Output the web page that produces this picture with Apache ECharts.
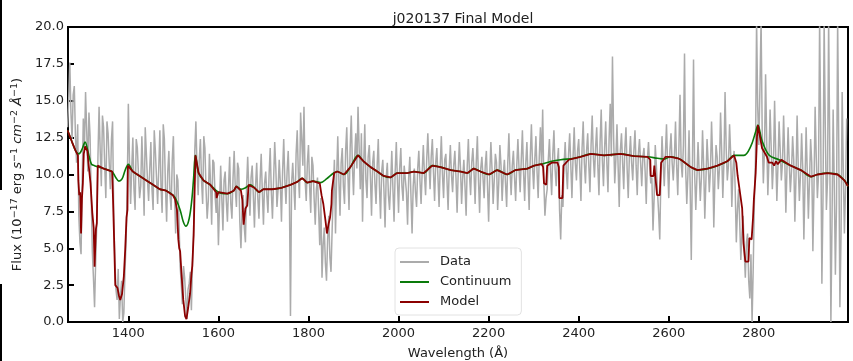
<!DOCTYPE html>
<html>
<head>
<meta charset="utf-8">
<script src="https://cdn.jsdelivr.net/npm/echarts@6/dist/echarts.min.js"></script>
<style>html,body{margin:0;padding:0;background:#fff;}#c{width:853px;height:361px;}</style>
</head>
<body>
<div id="c"></div>
<script>
// ---- data ----
const titleText = 'j020137 Final Model';
const seriesNames = ['Data', 'Continuum', 'Model'];
const xTicks = [1400, 1600, 1800, 2000, 2200, 2400, 2600, 2800];

// observed spectrum, pixels at 1265 + 5k Å
const dataStartA = 1265;
const dataStep = 5;
const dataFluxA = [
  13.2,17.6,12.4,16.0,10.8,7.2,4.6,13.8,15.6,10.2,12.6,4.8,1.0,6.8,14.6,9.2,13.2,8.4,12.8,9.0,
  13.6,4.2,1.5,0.2,2.8,0.6,5.5,14.8,8.0,12.5,7.6,11.8,8.4,12.6,7.2,11.4,8.2,12.2,7.6,11.6,
  8.0,13.0,7.4,12.4,6.8,11.6,7.6,12.6,6.0,9.6,3.8,1.2,3.0,0.2,2.6,0.8,6.2,13.6,8.6,12.4,
  8.0,11.8,7.0,11.4,6.6,10.8,7.4,5.2,10.6,6.2,10.2,6.8,11.2,7.0,11.6,7.8,10.4,5.0,8.6,5.4,
  11.2,7.2,10.6,6.4,10.8,7.0,11.4,6.6,10.2,7.4,11.8,7.0,12.2,7.8,11.0,6.8,12.4,8.0,11.6,0.4,
  10.8,7.6,13.0,8.4,12.4,14.6,8.2,12.0,7.4,10.6,6.6,9.8,5.2,3.0,6.4,2.8,7.2,3.4,8.8,6.0,
  12.6,7.2,11.8,8.0,13.2,7.6,14.0,8.6,12.8,14.6,9.0,6.8,13.4,8.4,12.0,7.2,11.6,8.0,12.4,7.0,
  11.0,6.4,10.8,7.6,11.6,6.8,12.2,7.4,11.8,8.2,10.6,6.6,11.2,6.0,10.4,7.8,11.6,8.0,12.0,8.6,
  12.8,9.0,12.4,8.2,11.8,7.8,12.6,8.4,11.4,7.6,12.0,8.8,11.6,7.4,12.2,8.0,11.0,7.2,12.4,8.6,
  11.8,8.0,12.6,7.4,11.2,8.4,11.6,6.8,12.2,8.0,11.4,7.6,12.0,8.2,11.0,7.8,12.8,8.6,11.6,8.2,
  12.4,8.8,13.0,8.2,12.2,7.6,13.4,9.0,12.6,8.4,13.2,14.4,7.2,9.0,12.4,8.6,13.0,9.2,11.8,5.6,
  7.8,12.2,9.0,12.8,8.4,13.2,9.6,12.4,8.2,13.6,9.4,12.8,8.8,14.0,9.8,13.2,8.6,14.4,9.2,13.6,
  8.8,14.8,18.0,9.4,13.4,7.8,12.8,9.0,13.2,8.4,12.6,9.6,13.0,8.6,12.4,9.2,11.8,8.0,12.2,9.4,
  6.2,12.0,8.8,5.6,12.6,9.2,13.4,8.4,12.8,9.6,13.6,8.6,15.4,9.8,18.2,8.0,13.0,4.2,17.8,7.6,
  12.2,8.2,13.0,7.0,12.4,8.8,13.6,6.4,12.0,9.0,14.2,8.4,15.6,9.6,13.4,7.8,11.6,5.4,9.0,4.2,
  7.2,3.0,6.0,1.6,0.0,8.0,20.5,12.0,20.5,9.4,16.8,8.6,14.4,9.0,15.0,8.2,13.6,9.6,14.0,7.4,
  13.2,8.8,12.6,6.8,14.0,8.2,12.8,5.6,13.2,7.0,12.4,4.8,14.6,8.4,20.5,2.6,20.5,7.6,20.5,0.0,
  14.4,3.2,20.5,1.0,15.6,6.0,13.8
];
// observed spectrum, pixels at 1267.5 + 5k Å
const dataStartB = 1267.5;
const dataFluxB = [
  15.0,14.2,15.4,12.6,13.4,5.4,9.6,11.8,13.0,14.2,8.6,3.0,4.2,11.2,11.6,14.0,10.6,13.6,10.8,12.4,
  7.4,2.2,3.6,1.8,0.0,3.4,9.0,11.0,10.4,9.0,12.4,10.0,9.2,10.2,13.2,9.6,10.4,9.0,13.0,9.8,
  10.4,9.2,13.4,9.0,10.2,8.6,11.0,8.8,10.0,6.8,2.6,3.8,1.6,2.2,3.4,4.0,11.6,10.4,11.0,9.6,
  12.6,9.0,8.2,9.4,11.0,8.6,8.8,8.0,8.4,9.6,8.2,9.2,8.0,9.8,9.0,10.8,6.8,7.6,6.4,9.2,
  9.0,9.8,8.6,9.2,8.4,9.6,8.8,9.4,8.6,10.0,8.8,9.6,10.4,9.0,9.4,10.2,9.6,10.2,9.0,9.4,
  9.2,11.4,10.0,14.2,10.6,9.6,10.8,9.2,11.2,8.4,9.0,7.6,8.4,5.2,4.0,5.6,4.4,6.2,11.0,9.8,
  9.6,10.8,9.2,11.6,10.0,11.8,10.6,11.2,10.4,11.8,12.8,10.6,9.6,11.2,9.8,10.8,9.4,10.6,9.2,10.2,
  9.0,9.8,8.6,9.4,9.0,10.2,9.6,10.4,9.2,10.6,8.8,9.8,8.6,9.2,8.8,10.4,9.6,10.2,10.0,11.0,
  10.8,11.2,10.2,10.8,9.8,10.6,10.0,11.0,9.6,10.4,10.0,10.6,9.8,10.2,10.4,9.8,9.2,10.6,10.0,10.8,
  10.2,10.8,9.6,10.4,9.8,10.6,9.2,10.0,10.4,9.6,10.8,9.4,10.6,10.0,9.4,10.8,10.2,10.6,9.8,10.6,
  10.4,11.0,10.2,10.8,9.8,11.2,10.6,11.0,10.2,11.2,10.6,9.6,8.4,11.0,10.2,11.4,10.4,10.8,7.6,8.6,
  10.6,10.2,11.4,10.6,11.2,10.8,11.6,10.4,11.8,10.8,11.6,10.6,12.0,11.2,11.8,10.6,12.2,11.0,11.8,10.8,
  12.4,11.2,12.6,11.0,10.6,11.6,10.8,11.8,10.4,11.2,10.8,11.6,10.6,11.4,10.8,11.2,10.2,11.0,10.6,9.8,
  8.4,10.6,7.4,9.8,10.8,11.4,10.6,11.6,10.8,11.2,10.6,11.8,10.8,12.0,10.4,10.0,9.2,10.4,10.0,9.8,
  10.2,9.8,10.6,9.6,10.8,10.2,11.0,9.8,11.2,10.4,11.6,10.8,11.8,10.6,11.4,10.2,9.0,7.6,6.8,6.0,
  4.8,5.4,2.8,4.6,3.6,11.0,14.6,16.0,12.8,11.6,12.2,11.0,11.8,10.8,11.4,10.6,11.6,10.8,11.2,10.4,
  10.8,10.2,11.0,9.8,10.6,10.0,10.4,9.4,10.2,9.6,10.8,9.2,11.2,10.0,12.6,8.4,13.4,9.6,11.8,6.8,
  9.4,8.0,12.0,5.8,10.4,9.0
];

// continuum fit
const contWave = [
  1265,1275,1283,1290,1297,1304,1310,1318,1325,1335,
  1345,1355,1364,1372,1379,1386,1393,1400,1410,1425,
  1440,1455,1470,1484,1499,1506,1515,1522,1528,1535,
  1541,1545,1549,1556,1567,1582,1600,1620,1634,1640,
  1650,1660,1671,1680,1690,1700,1720,1740,1760,1775,
  1786,1797,1810,1827,1840,1856,1864,1879,1893,1910,
  1922,1938,1953,1967,1982,1997,2019,2034,2056,2075,
  2093,2116,2138,2153,2167,2182,2201,2219,2241,2260,
  2286,2301,2323,2340,2360,2390,2404,2427,2456,2493,
  2523,2553,2575,2590,2604,2620,2627,2649,2664,2686,
  2708,2730,2745,2767,2782,2793,2798,2807,2823,2845,
  2871,2893,2916,2930,2953,2975,2990,2998
];
const contFlux = [
  13.0,12.2,11.6,11.4,11.7,12.2,11.6,10.7,10.6,10.5,
  10.4,10.3,10.2,9.8,9.55,9.7,10.3,10.7,10.2,9.9,
  9.6,9.3,9.0,8.9,8.6,8.3,7.6,6.8,6.5,7.0,
  8.3,9.8,11.3,10.1,9.6,9.3,8.8,8.7,8.9,9.2,
  9.0,9.1,9.3,9.1,8.8,9.0,9.0,9.1,9.3,9.5,
  9.75,9.45,9.55,9.45,9.7,10.1,10.2,10.0,10.5,11.3,
  10.9,10.5,10.2,9.9,9.8,10.1,10.1,10.2,10.1,10.6,
  10.5,10.3,10.2,10.1,10.4,10.2,10.0,10.3,10.0,10.3,
  10.4,10.6,10.75,10.9,11.0,11.1,11.2,11.4,11.3,11.4,
  11.25,11.2,11.1,11.05,11.2,11.1,11.0,10.5,10.3,10.4,
  10.6,10.9,11.3,11.3,11.9,12.9,13.35,12.3,11.3,11.0,
  10.6,10.3,9.85,10.0,10.1,10.0,9.6,9.2
];

// full model (continuum x absorption)
const modelWave = [
  1265,1275,1283,1288,1289,1291,1293,1295,1297,1299,
  1301,1304,1306,1309,1312,1316,1320,1323,1325,1327,
  1328,1330,1332,1335,1345,1355,1364,1366,1369,1371,
  1376,1379,1382,1386,1390,1393,1396,1398,1399,1400,
  1410,1425,1440,1455,1470,1484,1499,1504,1508,1511,
  1513,1515,1518,1522,1526,1529,1533,1537,1540,1542,
  1545,1549,1556,1567,1582,1595,1596,1599,1600,1620,
  1634,1640,1650,1653,1656,1659,1660,1664,1667,1671,
  1680,1690,1700,1720,1740,1760,1775,1786,1797,1810,
  1825,1829,1833,1838,1841,1845,1848,1851,1852,1855,
  1857,1864,1879,1893,1910,1922,1938,1953,1967,1982,
  1997,2019,2034,2056,2075,2093,2116,2138,2153,2167,
  2182,2201,2219,2241,2260,2286,2301,2318,2321,2323,
  2328,2330,2340,2353,2356,2357,2364,2366,2378,2390,
  2404,2427,2456,2493,2523,2553,2559,2560,2566,2568,
  2571,2574,2580,2583,2593,2604,2620,2627,2649,2664,
  2686,2708,2730,2745,2750,2753,2758,2763,2766,2770,
  2777,2779,2784,2787,2789,2793,2796,2798,2807,2818,
  2822,2826,2830,2834,2838,2842,2850,2871,2893,2916,
  2930,2953,2975,2990,2998
];
const modelFlux = [
  13.0,12.2,11.6,11.3,9.6,8.6,8.8,6.0,8.4,9.4,
  11.4,11.9,12.0,11.6,10.6,9.4,7.4,6.4,3.75,5.5,
  6.3,6.7,10.6,10.5,10.4,10.3,10.2,8.3,4.9,2.5,
  2.3,1.8,1.5,1.9,3.1,4.9,7.1,7.6,10.6,10.7,
  10.2,9.9,9.6,9.3,9.0,8.9,8.6,8.3,7.6,5.6,
  5.0,4.8,3.3,1.5,0.4,0.2,1.0,1.9,3.2,3.8,
  5.9,11.3,10.1,9.6,9.3,8.8,8.4,8.4,8.8,8.7,
  8.9,9.2,8.9,8.3,6.6,6.5,7.7,7.9,9.3,9.3,
  9.1,8.8,9.0,9.0,9.1,9.3,9.5,9.75,9.45,9.55,
  9.4,8.6,8.0,6.8,6.0,6.7,7.1,8.0,8.9,9.0,
  10.1,10.2,10.0,10.5,11.3,10.9,10.5,10.2,9.9,9.8,
  10.1,10.1,10.2,10.1,10.6,10.5,10.3,10.2,10.1,10.4,
  10.2,10.0,10.3,10.0,10.3,10.4,10.6,10.7,10.5,9.4,
  9.3,10.6,10.8,10.8,10.5,8.4,8.4,10.6,11.0,11.1,
  11.2,11.4,11.3,11.4,11.25,11.2,11.0,9.9,9.9,10.6,
  10.5,8.6,8.6,10.8,11.2,11.2,11.1,11.0,10.5,10.3,
  10.4,10.6,10.9,11.3,10.8,9.9,8.8,7.7,5.35,4.1,
  4.1,5.7,5.6,7.0,8.3,10.1,12.6,13.35,11.8,11.2,
  10.8,10.9,10.8,10.6,10.9,10.7,11.0,10.6,10.3,9.85,
  10.0,10.1,10.0,9.6,9.2
];

// ---- build series data ----
const dataPts = dataFluxA.map((v, i) => [dataStartA + i * dataStep, v])
  .concat(dataFluxB.map((v, i) => [dataStartB + i * dataStep, v]))
  .sort((a, b) => a[0] - b[0]);
const contPts = contWave.map((w, i) => [w, contFlux[i]]);
const modelPts = modelWave.map((w, i) => [w, modelFlux[i]]);

const FONT = 'DejaVu Sans';
const base = {fontFamily: FONT, fontSize: 13, color: '#222', lineHeight: 15, verticalAlign: 'bottom'};
const chart = echarts.init(document.getElementById('c'), null, {renderer: 'canvas'});
chart.setOption({
  animation: false,
  backgroundColor: '#fff',
  textStyle: {fontFamily: FONT},
  title: {
    text: titleText,
    left: 458, top: 7, textAlign: 'center',
    textStyle: {fontFamily: FONT, fontSize: 14, fontWeight: 'normal', color: '#222'}
  },
  grid: {left: 68, right: 5, top: 27, bottom: 39, show: true, borderColor: '#000', borderWidth: 2,
         backgroundColor: 'transparent', containLabel: false, outerBoundsMode: 'none'},
  legend: {
    data: seriesNames,
    orient: 'vertical',
    left: 395, top: 248,
    padding: [6, 10, 5, 5],
    itemGap: 4,
    itemWidth: 29, itemHeight: 2,
    icon: 'rect',
    backgroundColor: 'rgba(255,255,255,0.85)',
    borderColor: '#e2e2e2', borderWidth: 1, borderRadius: 4,
    textStyle: {fontFamily: FONT, fontSize: 13, color: '#222', lineHeight: 16, padding: [0, 0, 0, 6]}
  },
  xAxis: {
    type: 'value', min: 1266, max: 2998,
    name: 'Wavelength (Å)', nameLocation: 'middle', nameGap: 25,
    nameTextStyle: {fontFamily: FONT, fontSize: 13, color: '#222'},
    axisLine: {show: true, lineStyle: {color: '#000', width: 2}},
    axisTick: {show: true, inside: true, length: 6, lineStyle: {color: '#000', width: 2}, customValues: xTicks},
    axisLabel: {show: true, color: '#222', fontFamily: FONT, fontSize: 13, margin: 5, customValues: xTicks, formatter: v => String(v)},
    splitLine: {show: false}
  },
  yAxis: {
    type: 'value', min: 0, max: 20, interval: 2.5,
    name: '{n|Flux (10}{s|−17}{n| erg }{i|s}{s|−1}{n| }{i|cm}{s|−2}{n| }{i|Å}{s|−1}{n|)}',
    nameLocation: 'middle', nameGap: 42, nameRotate: 90,
    nameTextStyle: {
      fontFamily: FONT, fontSize: 13, color: '#222',
      rich: {
        n: base,
        i: Object.assign({}, base, {fontStyle: 'italic'}),
        s: {fontFamily: FONT, fontSize: 9.5, color: '#222', lineHeight: 15, verticalAlign: 'top'}
      }
    },
    axisLine: {show: true, lineStyle: {color: '#000', width: 2}},
    axisTick: {show: true, inside: true, length: 6, lineStyle: {color: '#000', width: 2}},
    axisLabel: {show: true, color: '#222', fontFamily: FONT, fontSize: 13, margin: 4, formatter: v => v.toFixed(1)},
    splitLine: {show: false}
  },
  graphic: [
    {type: 'rect', left: 0, top: 0, shape: {x: 0, y: 0, width: 2, height: 190}, style: {fill: '#000'}, silent: true},
    {type: 'rect', left: 0, top: 284, shape: {x: 0, y: 0, width: 2, height: 77}, style: {fill: '#000'}, silent: true}
  ],
  series: [
    {name: seriesNames[0], type: 'line', data: dataPts, symbol: 'none', clip: true,
     lineStyle: {color: '#ababab', width: 1.5}, itemStyle: {color: '#ababab'}, z: 1},
    {name: seriesNames[1], type: 'line', data: contPts, symbol: 'none', smooth: 0.35, clip: true,
     lineStyle: {color: '#0a7a0a', width: 1.6}, itemStyle: {color: '#0a7a0a'}, z: 2},
    {name: seriesNames[2], type: 'line', data: modelPts, symbol: 'none', clip: true,
     lineStyle: {color: '#8b0000', width: 1.8}, itemStyle: {color: '#8b0000'}, z: 3}
  ]
});
</script>
</body>
</html>
